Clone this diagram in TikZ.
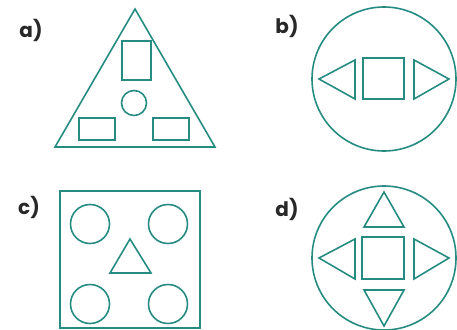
\documentclass[tikz,border=0pt]{standalone}
\usepackage{fontspec}
\setmainfont{Poppins}
\definecolor{teal1}{RGB}{38,140,130}
\definecolor{lab}{RGB}{40,40,40}
\tikzset{
  shp/.style={draw=teal1, line width=1.6pt, line join=miter},
  lbl/.style={text=lab, font=\fontsize{20}{20}\selectfont\bfseries, inner sep=0pt}
}
\begin{document}
\begin{tikzpicture}[x=1pt,y=-1pt]
\useasboundingbox (0,0) rectangle (457,329);
% a)
\node[lbl] (la) at (31,30) {a)};
\draw[shp] (135,9) -- (215,147) -- (55,147) -- cycle;
\draw[shp] (122,41) rectangle (151,80);
\draw[shp] (134,103) circle (12.5);
\draw[shp] (79,118) rectangle (115,140);
\draw[shp] (153,118) rectangle (189,140);
% b)
\node[lbl] (lb) at (287,26) {b)};
\draw[shp] (384,79) circle (72);
\draw[shp] (363,58) rectangle (404,99);
\draw[shp] (355,60) -- (319,79) -- (355,99) -- cycle;
\draw[shp] (414,60) -- (449,79) -- (414,99) -- cycle;
% c)
\node[lbl] (lc) at (29,207) {c)};
\draw[shp] (60,191) rectangle (200,328);
\draw[shp] (90,224) circle (19.5);
\draw[shp] (168,224) circle (19.5);
\draw[shp] (90,304) circle (19.5);
\draw[shp] (168,304) circle (19.5);
\draw[shp] (130,239) -- (151,273) -- (110,273) -- cycle;
% d)
\node[lbl] (ld) at (287,209) {d)};
\draw[shp] (384,258) circle (72);
\draw[shp] (362,237) rectangle (404,279);
\draw[shp] (384,192) -- (404,227) -- (364,227) -- cycle;
\draw[shp] (384,326) -- (404,290) -- (364,290) -- cycle;
\draw[shp] (355,239) -- (319,258) -- (355,279) -- cycle;
\draw[shp] (414,239) -- (449,258) -- (414,279) -- cycle;
\end{tikzpicture}
\end{document}
